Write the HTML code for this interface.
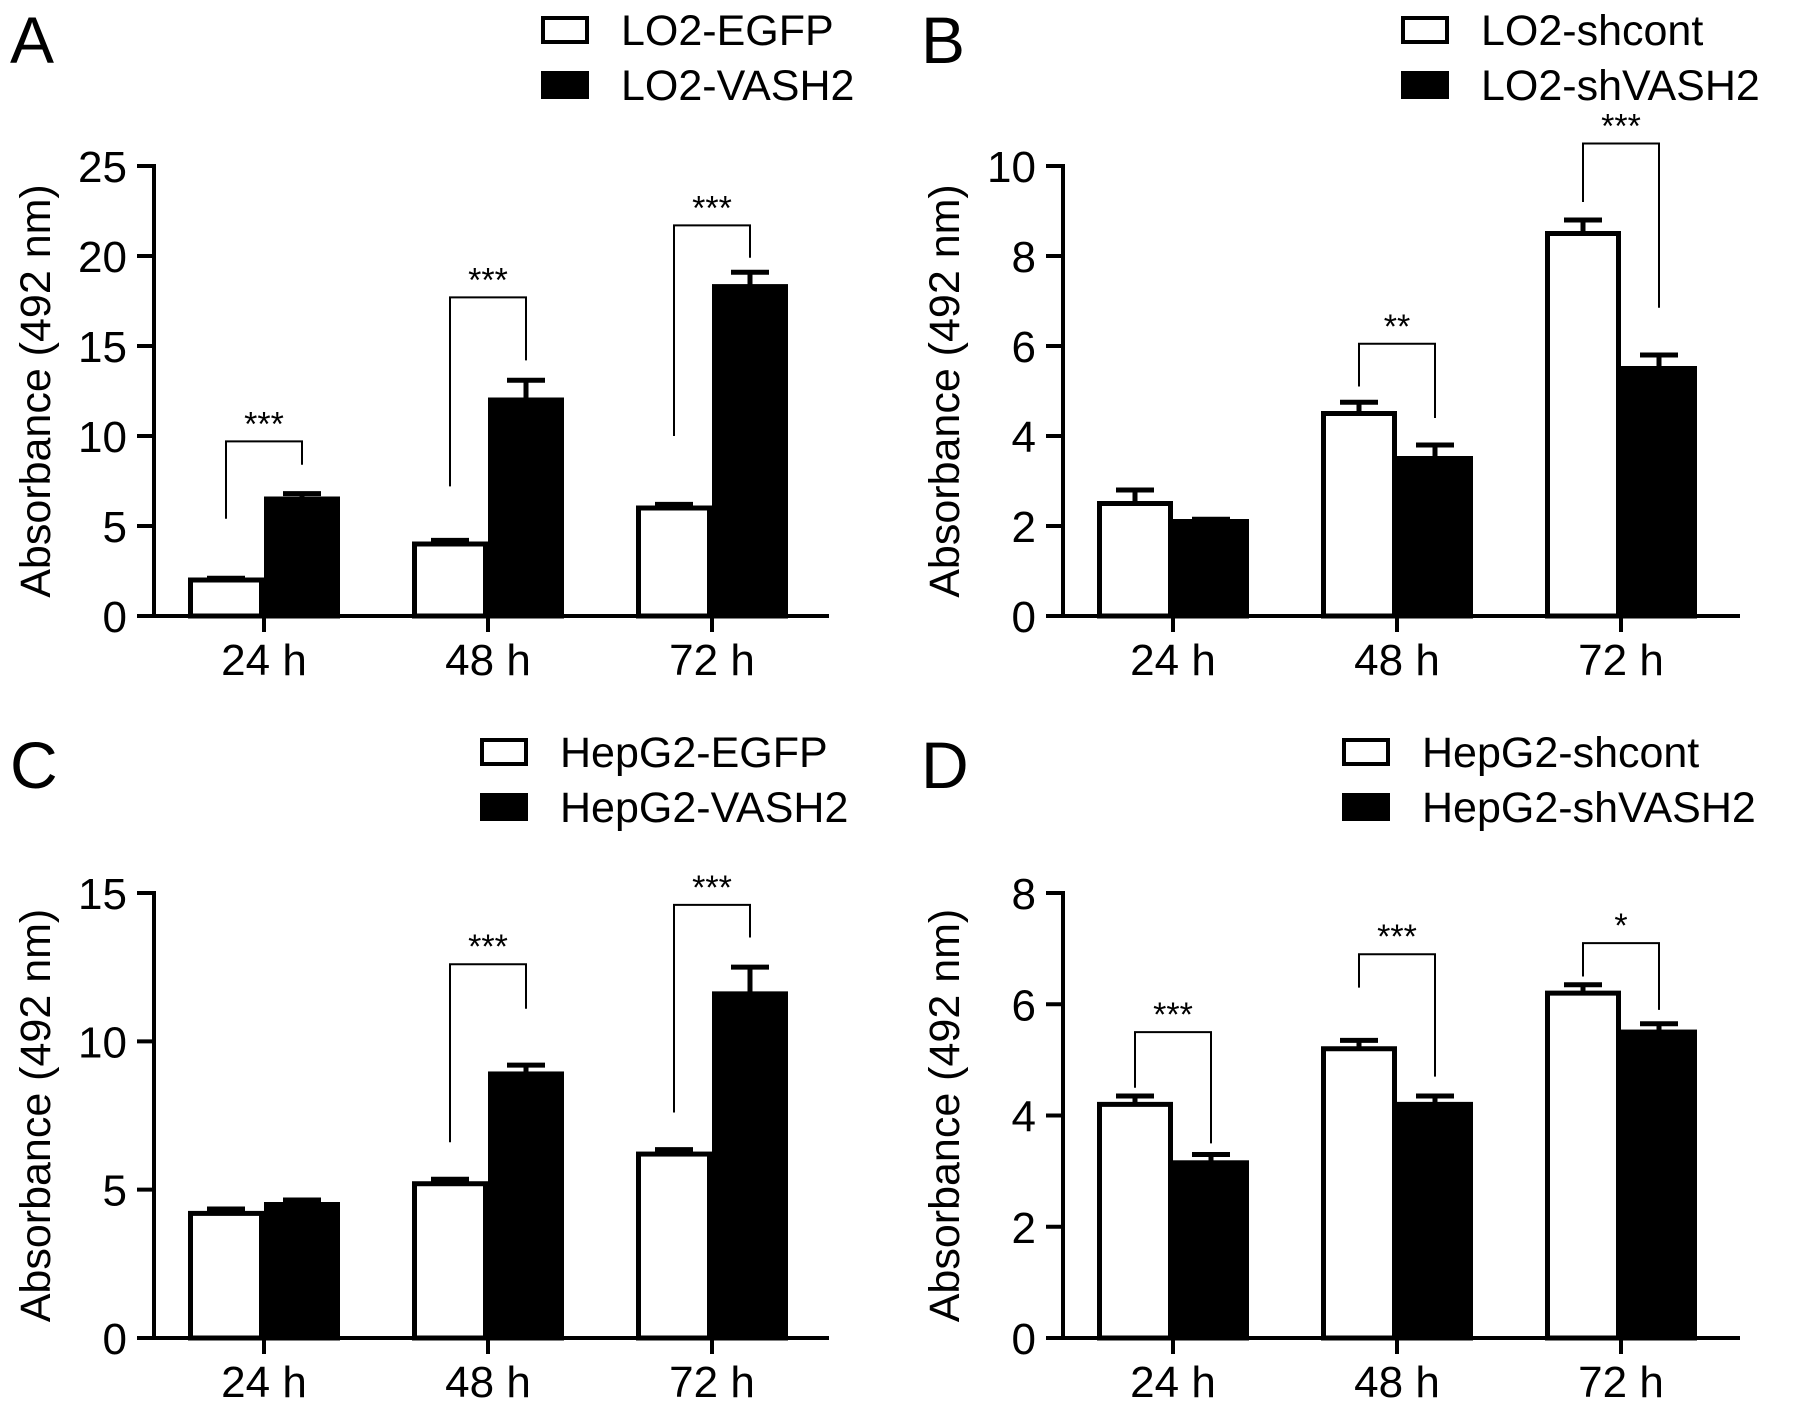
<!DOCTYPE html>
<html><head><meta charset="utf-8"><style>
html,body{margin:0;padding:0;background:#fff;}
svg{display:block;font-family:"Liberation Sans",Arial,sans-serif;}
</style></head><body>
<svg id="fig" width="1795" height="1410" viewBox="0 0 1795 1410" xmlns="http://www.w3.org/2000/svg"></svg>
<script>
const categories = ["24 h","48 h","72 h"];
const aWhite=[2,4,6], aWhiteErr=[0.1,0.2,0.2], aBlack=[6.5,12,18.3], aBlackErr=[0.3,1.1,0.8];
const bWhite=[2.5,4.5,8.5], bWhiteErr=[0.3,0.25,0.3], bBlack=[2.1,3.5,5.5], bBlackErr=[0.05,0.3,0.3];
const cWhite=[4.2,5.2,6.2], cWhiteErr=[0.15,0.15,0.15], cBlack=[4.5,8.9,11.6], cBlackErr=[0.15,0.3,0.9];
const dWhite=[4.2,5.2,6.2], dWhiteErr=[0.15,0.15,0.15], dBlack=[3.15,4.2,5.5], dBlackErr=[0.15,0.15,0.15];
const aTicks=[0,5,10,15,20,25], bTicks=[0,2,4,6,8,10], cTicks=[0,5,10,15], dTicks=[0,2,4,6,8];
// brackets: [category index, left-leg bottom, top, right-leg bottom, label]
const aBrackets=[[0,5.4,9.7,8.4,"***"],[1,7.2,17.7,14.2,"***"],[2,10,21.7,19.9,"***"]];
const bBrackets=[[1,5.1,6.05,4.4,"**"],[2,9.2,10.5,6.85,"***"]];
const cBrackets=[[1,6.6,12.6,11.1,"***"],[2,7.6,14.6,13.5,"***"]];
const dBrackets=[[0,4.5,5.5,3.5,"***"],[1,6.3,6.9,4.7,"***"],[2,6.5,7.1,5.9,"*"]];

const NS="http://www.w3.org/2000/svg", svg=document.getElementById('fig');
function mk(tag,attrs,parent){const e=document.createElementNS(NS,tag);for(const k in attrs)e.setAttribute(k,attrs[k]);(parent||svg).appendChild(e);return e;}

function panel(o){
  const g=mk('g',{});
  
  
  const ax=o.ax, y0=o.y0, yTop=o.yTop, ymax=o.ticks[o.ticks.length-1];
  const Y=v=>y0-(v/ymax)*(y0-yTop);
  const X=i=>ax+110+224*i;
  const bw=76;
  const L=mk('text',{x:o.lxL,y:o.lyL,'font-size':66},g);L.textContent=o.letter;
  
  
  const leg=[[o.names[0],'#fff'],[o.names[1],'#000']];
  leg.forEach((d,i)=>{
    const lg=mk('g',{},g);
    
    
    mk('rect',{x:o.lx+2,y:o.ly+i*55+2,width:44,height:24,fill:d[1],stroke:'#000','stroke-width':4},lg);
    const t=mk('text',{x:o.lx+80,y:o.ly+i*55+29,'font-size':43},lg);t.textContent=d[0];
  });
  const yt=mk('text',{transform:`translate(${ax-104},${(y0+yTop)/2}) rotate(-90)`,'text-anchor':'middle','font-size':43},g);
  yt.textContent='Absorbance (492 nm)';
  
  
  const draw=(vals,errs,fill,off,name)=>{
    vals.forEach((v,i)=>{
      const x=X(i)+off;
      const b=mk('rect',{x:x+2.5,y:Y(v),width:bw-5,height:y0-Y(v),fill:fill,stroke:'#000','stroke-width':5},g);
      
      
      const xm=x+bw/2, ye=Y(v+errs[i]);
      mk('line',{x1:xm,x2:xm,y1:Y(v),y2:ye,stroke:'#000','stroke-width':5},g);
      mk('line',{x1:xm-19,x2:xm+19,y1:ye,y2:ye,stroke:'#000','stroke-width':5},g);
    });
  };
  draw(o.white,o.werr,'#fff',-bw,'white');
  draw(o.black,o.berr,'#000',0,'black');
  mk('line',{x1:ax,x2:ax,y1:yTop-2,y2:y0+2,stroke:'#000','stroke-width':4},g);
  mk('line',{x1:ax-17,x2:ax+o.xlen,y1:y0,y2:y0,stroke:'#000','stroke-width':4},g);
  o.ticks.forEach(t=>{
    mk('line',{x1:ax-17,x2:ax,y1:Y(t),y2:Y(t),stroke:'#000','stroke-width':4},g);
    const tx=mk('text',{x:ax-27,y:Y(t)+16,'text-anchor':'end','font-size':44},g);tx.textContent=t;
  });
  categories.forEach((c,i)=>{
    mk('line',{x1:X(i),x2:X(i),y1:y0,y2:y0+16,stroke:'#000','stroke-width':4},g);
    const tx=mk('text',{x:X(i),y:y0+59,'text-anchor':'middle','font-size':44},g);tx.textContent=c;
  });
  o.br.forEach(b=>{
    const xl=X(b[0])-bw/2, xr=X(b[0])+bw/2;
    const p=mk('path',{d:`M${xl},${Y(b[1])}V${Y(b[2])}H${xr}V${Y(b[3])}`,fill:'none',stroke:'#000','stroke-width':2},g);
    
    
    const s=mk('text',{x:(xl+xr)/2,y:Y(b[2])-6,'text-anchor':'middle','font-size':34},g);s.textContent=b[4];
  });
}
panel({letter:'A',lxL:10,lyL:63,ax:154,y0:616,yTop:166,xlen:675,ticks:aTicks,white:aWhite,werr:aWhiteErr,black:aBlack,berr:aBlackErr,br:aBrackets,names:['LO2-EGFP','LO2-VASH2'],lx:541,ly:16});
panel({letter:'B',lxL:921,lyL:63,ax:1063,y0:616,yTop:166,xlen:677,ticks:bTicks,white:bWhite,werr:bWhiteErr,black:bBlack,berr:bBlackErr,br:bBrackets,names:['LO2-shcont','LO2-shVASH2'],lx:1401,ly:16});
panel({letter:'C',lxL:10,lyL:788,ax:154,y0:1338,yTop:893,xlen:675,ticks:cTicks,white:cWhite,werr:cWhiteErr,black:cBlack,berr:cBlackErr,br:cBrackets,names:['HepG2-EGFP','HepG2-VASH2'],lx:480,ly:738});
panel({letter:'D',lxL:921,lyL:788,ax:1063,y0:1338,yTop:893,xlen:677,ticks:dTicks,white:dWhite,werr:dWhiteErr,black:dBlack,berr:dBlackErr,br:dBrackets,names:['HepG2-shcont','HepG2-shVASH2'],lx:1342,ly:738});
</script>
</body></html>
